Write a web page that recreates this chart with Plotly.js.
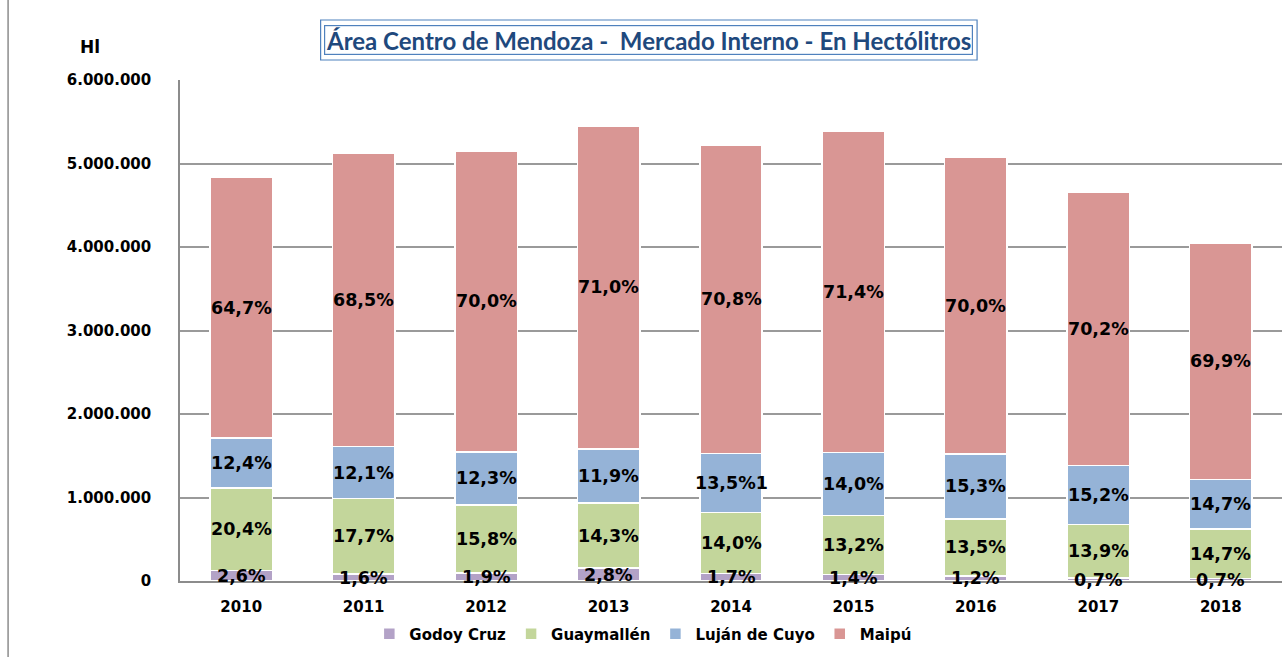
<!DOCTYPE html>
<html>
<head>
<meta charset="utf-8">
<script src="https://cdn.plot.ly/plotly-3.0.1.min.js"></script>
<style>html,body{margin:0;padding:0;background:#fff;}#chart{width:1282px;height:657px;}</style>
</head>
<body>
<div id="chart"></div>
<script>
const years = ['2010','2011','2012','2013','2014','2015','2016','2017','2018'];
const godoyCruz = [126000, 82000, 98000, 153000, 89000, 75000, 61000, 33000, 28000];
const guaymallen = [985000, 907000, 814000, 779000, 731000, 711000, 684000, 646000, 595000];
const lujanDeCuyo = [599000, 620000, 633000, 649000, 705000, 755000, 776000, 707000, 595000];
const maipu = [3125000, 3511000, 3605000, 3870000, 3696000, 3848000, 3549000, 3264000, 2831000];
const godoyLabels = ['2,6%','1,6%','1,9%','2,8%','1,7%','1,4%','1,2%','0,7%','0,7%'];
const guaymallenLabels = ['20,4%','17,7%','15,8%','14,3%','14,0%','13,2%','13,5%','13,9%','14,7%'];
const lujanLabels = ['12,4%','12,1%','12,3%','11,9%','13,5%1','14,0%','15,3%','15,2%','14,7%'];
const maipuLabels = ['64,7%','68,5%','70,0%','71,0%','70,8%','71,4%','70,0%','70,2%','69,9%'];

const FONT = 'DejaVu Sans, Verdana, sans-serif';
const labelFont = {family: FONT, size: 17.5, color: '#000', weight: 'bold'};
const seriesList = [
  {name: 'Godoy Cruz', vals: godoyCruz, labels: godoyLabels, color: '#B3A2C7'},
  {name: 'Guaymallén', vals: guaymallen, labels: guaymallenLabels, color: '#C3D69B'},
  {name: 'Luján de Cuyo', vals: lujanDeCuyo, labels: lujanLabels, color: '#95B3D7'},
  {name: 'Maipú', vals: maipu, labels: maipuLabels, color: '#D99694'}
];
const data = seriesList.map(s => ({
  type: 'bar', name: s.name, x: years, y: s.vals,
  marker: {color: s.color, line: {color: '#ffffff', width: 1.5}},
  hoverinfo: 'x+y+name'
}));
const annotations = [];
const base = years.map(() => 0);
seriesList.forEach(s => {
  s.vals.forEach((v, i) => {
    annotations.push({x: i, y: base[i] + v / 2, xref: 'x', yref: 'y', text: s.labels[i],
      showarrow: false, font: labelFont, xanchor: 'center', yanchor: 'middle'});
    base[i] += v;
  });
});
annotations.push(
  {text: 'Área Centro de Mendoza -  Mercado Interno - En Hectólitros', xref: 'paper', yref: 'paper',
   x: 0.4247, y: 1.0798, xanchor: 'center', yanchor: 'middle', showarrow: false, width: 645, height: 26,
   font: {family: 'Lato, Carlito, Calibri, sans-serif', size: 24, color: '#1F497D', weight: 'bold'},
   bordercolor: '#4F81BD', borderwidth: 1.2, borderpad: 1, bgcolor: '#ffffff'},
  {text: 'Hl', xref: 'paper', yref: 'paper', x: -0.0817, y: 1.066, xanchor: 'center', yanchor: 'middle',
   showarrow: false, font: {family: FONT, size: 17, color: '#000', weight: 'bold'}}
);
const layout = {
  width: 1282, height: 657,
  margin: {l: 180, r: 0, t: 80, b: 76},
  paper_bgcolor: '#ffffff', plot_bgcolor: '#ffffff',
  barmode: 'stack', bargap: 0.49,
  separators: ',.',
  showlegend: true,
  legend: {orientation: 'h', x: 0.42, xanchor: 'center', y: -0.106, yanchor: 'middle',
    font: {family: FONT, size: 15, color: '#000', weight: 'bold'}, traceorder: 'normal'},
  xaxis: {
    type: 'category', range: [-0.5, 8.5], showgrid: false, showline: true, linecolor: '#8c8c8c', linewidth: 1.5,
    ticks: '', ticklabelstandoff: 11,
    tickfont: {family: FONT, size: 15, color: '#000', weight: 'bold'}
  },
  yaxis: {
    range: [0, 6000000], dtick: 1000000, tickformat: ',d',
    showgrid: true, gridcolor: '#9a9a9a', gridwidth: 1.5,
    showline: true, linecolor: '#8c8c8c', linewidth: 1.5,
    zeroline: false, ticks: '', ticklabelstandoff: 24,
    tickfont: {family: FONT, size: 15, color: '#000', weight: 'bold'}
  },
  annotations: annotations,
  shapes: [
    {type: 'rect', xref: 'paper', yref: 'paper', x0: 0.1276, x1: 0.7233, y0: 1.0399, y1: 1.1198,
     line: {color: '#4F81BD', width: 1.2}, layer: 'above'},
    {type: 'line', xref: 'paper', yref: 'paper', x0: -0.156, x1: -0.156, y0: -0.16, y1: 1.17,
     line: {color: '#8c8c8c', width: 1.5}}
  ]
};
Plotly.newPlot('chart', data, layout, {displayModeBar: false});
</script>
</body>
</html>
